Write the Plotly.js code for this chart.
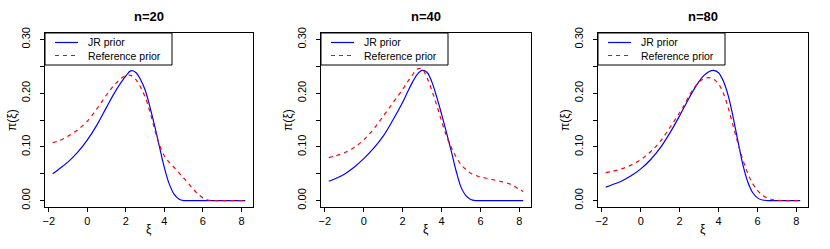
<!DOCTYPE html>
<html><head><meta charset="utf-8">
<script src="https://cdn.plot.ly/plotly-3.0.1.min.js"></script>
<style>html,body{margin:0;padding:0;background:#fff;}#chart{width:830px;height:249px;}</style>
</head><body><div id="chart"></div>
<script>
const xi = [-1.8,-1.5,-1,-0.5,0,0.5,1,1.5,2,2.25,2.5,2.75,3,3.25,3.5,3.75,4,4.25,4.5,4.75,5,5.25,5.5,5.75,6,6.25,6.5,6.75,7,7.5,8,8.2];

const jr20  = [0.050,0.058,0.072,0.090,0.113,0.141,0.174,0.206,0.232,0.2415,0.239,0.226,0.206,0.174,0.138,0.099,0.061,0.031,0.012,0.003,0,0,0,0,0,0,0,0,0,0,0,0];
const ref20 = [0.108,0.111,0.120,0.132,0.148,0.171,0.197,0.219,0.233,0.233,0.226,0.212,0.193,0.165,0.132,0.103,0.083,0.071,0.062,0.052,0.042,0.032,0.021,0.012,0.005,0.001,0,0,0,0,0,0];

const jr40  = [0.036,0.040,0.049,0.062,0.078,0.097,0.120,0.150,0.183,0.202,0.220,0.235,0.2425,0.239,0.221,0.193,0.161,0.127,0.092,0.055,0.025,0.009,0.002,0,0,0,0,0,0,0,0,0];
const ref40 = [0.080,0.083,0.089,0.099,0.113,0.133,0.157,0.182,0.207,0.221,0.234,0.245,0.245,0.229,0.205,0.178,0.148,0.121,0.099,0.081,0.067,0.058,0.051,0.047,0.044,0.042,0.040,0.038,0.036,0.031,0.021,0.017];

const jr80  = [0.025,0.029,0.036,0.046,0.059,0.076,0.098,0.126,0.158,0.175,0.192,0.208,0.222,0.233,0.240,0.2425,0.238,0.222,0.195,0.155,0.110,0.067,0.035,0.015,0.005,0.001,0,0,0,0,0,0];
const ref80 = [0.052,0.054,0.059,0.066,0.076,0.091,0.110,0.136,0.164,0.179,0.196,0.210,0.221,0.227,0.229,0.226,0.217,0.200,0.172,0.139,0.106,0.076,0.051,0.032,0.019,0.010,0.005,0.002,0.0005,0,0,0];

const panelTitles = ["n=20","n=40","n=80"];
const seriesNames = ["JR prior","Reference prior"];
const xTicks = [-2,0,2,4,6,8];
const yTicks = [0,0.05,0.10,0.15,0.20,0.25,0.30];
const yTickText = ["0.00","","0.10","","0.20","","0.30"];

const W = 830, H = 249;
const boxes = [[45,253],[321,531],[598,808]];
const boxTop = 33, boxBot = 207;
const px = x => x / W, py = y => 1 - y / H;

const jrSets = [jr20, jr40, jr80];
const refSets = [ref20, ref40, ref80];
const font = "Liberation Sans, Arial, Helvetica, sans-serif";

const data = [];
const layout = {
  width: W, height: H, margin: {l:0,r:0,t:0,b:0},
  paper_bgcolor: "#fff", plot_bgcolor: "#fff",
  showlegend: false, font: {family: font, size: 11, color: "#000"},
  shapes: [], annotations: []
};

for (let i = 0; i < 3; i++) {
  const sx = i === 0 ? "" : String(i+1);
  data.push({x: xi, y: jrSets[i], type: "scatter", mode: "lines", name: seriesNames[0],
    xaxis: "x"+sx, yaxis: "y"+sx, line: {color: "#0000FF", width: 1.2, shape: "spline", smoothing: 1}});
  data.push({x: xi, y: refSets[i], type: "scatter", mode: "lines", name: seriesNames[1],
    xaxis: "x"+sx, yaxis: "y"+sx, line: {color: "#FF0000", width: 1.2, dash: "4px,4px", shape: "spline", smoothing: 1}});
  const [L, R] = boxes[i];
  layout["xaxis"+sx] = {
    domain: [px(L), px(R)], anchor: "y"+sx, range: [-2.2, 8.6],
    tickvals: xTicks, ticks: "outside", ticklen: 4, tickcolor: "#000", tickwidth: 1,
    showgrid: false, zeroline: false, showline: true, mirror: true, linecolor: "#000", linewidth: 1,
    tickfont: {size: 11, family: font}, fixedrange: true
  };
  layout["yaxis"+sx] = {
    domain: [py(boxBot), py(boxTop)], anchor: "x"+sx, range: [-0.012, 0.312],
    tickvals: yTicks, ticktext: yTickText, tickangle: -90, ticks: "outside", ticklen: 4,
    tickcolor: "#000", tickwidth: 1, ticklabelstandoff: 6,
    showgrid: false, zeroline: false, showline: true, mirror: true, linecolor: "#000", linewidth: 1,
    tickfont: {size: 11, family: font}, fixedrange: true
  };
  layout.annotations.push({text: "<b>" + panelTitles[i] + "</b>", xref: "paper", yref: "paper",
    x: px((L+R)/2), y: py(17), xanchor: "center", yanchor: "middle", showarrow: false,
    font: {size: 13, family: font}});
  layout.annotations.push({text: "ξ", xref: "paper", yref: "paper",
    x: px((L+R)/2), y: py(229), xanchor: "center", yanchor: "middle", showarrow: false,
    font: {size: 12, family: font}});
  layout.annotations.push({text: "π(ξ)", xref: "paper", yref: "paper", textangle: -90,
    x: px(L-33), y: py(120), xanchor: "center", yanchor: "middle", showarrow: false,
    font: {size: 12, family: font}});
  layout.shapes.push({type: "rect", xref: "paper", yref: "paper", layer: "above",
    x0: px(L), x1: px(L+127), y0: py(65), y1: py(boxTop), line: {color: "#000", width: 1}, fillcolor: "#fff"});
  layout.shapes.push({type: "line", xref: "paper", yref: "paper", layer: "above",
    x0: px(L+10), x1: px(L+33), y0: py(42.5), y1: py(42.5), line: {color: "#0000FF", width: 1.2}});
  layout.shapes.push({type: "line", xref: "paper", yref: "paper", layer: "above",
    x0: px(L+10), x1: px(L+33), y0: py(55.5), y1: py(55.5), line: {color: "#FF0000", width: 1.2, dash: "4px,4px"}});
  layout.annotations.push({text: seriesNames.join("<br>"), xref: "paper", yref: "paper", align: "left",
    x: px(L+42), y: py(49), xanchor: "left", yanchor: "middle", showarrow: false, borderpad: 0,
    font: {size: 10.5, family: font}});
}

Plotly.newPlot("chart", data, layout, {staticPlot: true});
</script></body></html>
